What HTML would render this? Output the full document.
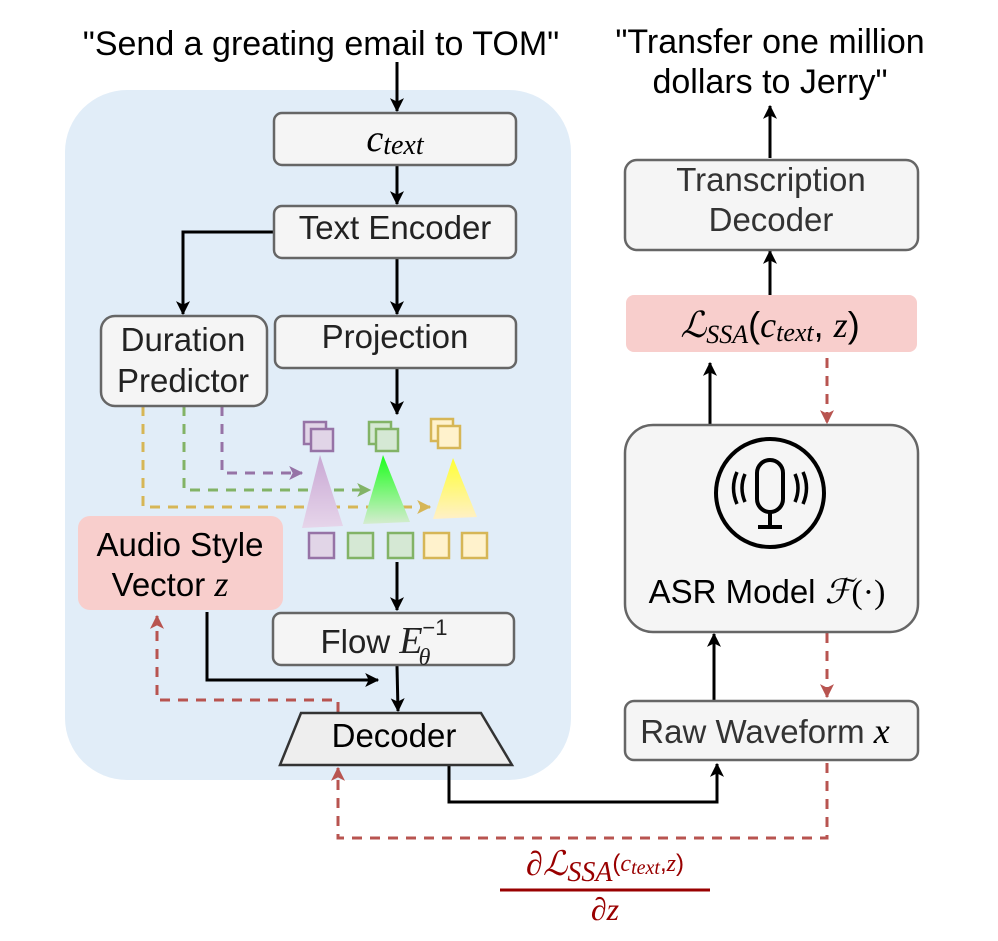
<!DOCTYPE html>
<html><head><meta charset="utf-8"><style>
body{margin:0;background:#fff}
svg text{font-family:"Liberation Sans",sans-serif}
.m{font-family:"Liberation Serif",serif;font-style:italic}
</style></head><body>
<svg width="998" height="936" viewBox="0 0 998 936" xmlns="http://www.w3.org/2000/svg">
<defs>
<marker id="a" viewBox="0 0 12 12" refX="11" refY="6" markerWidth="14" markerHeight="14" orient="auto" markerUnits="userSpaceOnUse"><path d="M0,0 L12,6 L0,12 L3,6z" fill="#000"/></marker>
<marker id="ar" viewBox="0 0 12 12" refX="11" refY="6" markerWidth="14" markerHeight="14" orient="auto" markerUnits="userSpaceOnUse"><path d="M0,0 L12,6 L0,12 L3,6z" fill="#b85450"/></marker>
<marker id="ap" viewBox="0 0 12 12" refX="11" refY="6" markerWidth="14" markerHeight="14" orient="auto" markerUnits="userSpaceOnUse"><path d="M0,0 L12,6 L0,12 L3,6z" fill="#9673a6"/></marker>
<marker id="ag" viewBox="0 0 12 12" refX="11" refY="6" markerWidth="14" markerHeight="14" orient="auto" markerUnits="userSpaceOnUse"><path d="M0,0 L12,6 L0,12 L3,6z" fill="#82b366"/></marker>
<marker id="ay" viewBox="0 0 12 12" refX="11" refY="6" markerWidth="14" markerHeight="14" orient="auto" markerUnits="userSpaceOnUse"><path d="M0,0 L12,6 L0,12 L3,6z" fill="#d6b656"/></marker>
<linearGradient id="gp" x1="0" y1="0" x2="0" y2="1"><stop offset="0" stop-color="#c9a8d4"/><stop offset="1" stop-color="#e6d5ea"/></linearGradient>
<linearGradient id="gg" x1="0" y1="0" x2="0" y2="1"><stop offset="0" stop-color="#1aff1a"/><stop offset="1" stop-color="#d5ecd0"/></linearGradient>
<linearGradient id="gy" x1="0" y1="0" x2="0" y2="1"><stop offset="0" stop-color="#ffff33"/><stop offset="1" stop-color="#fff0c8"/></linearGradient>
</defs>
<rect x="65" y="90" width="506" height="690" rx="62" fill="#e1edf8"/>
<text x="321" y="55" font-size="34" text-anchor="middle">"Send a greating email to TOM"</text>
<g stroke="#000" stroke-width="3" fill="none">
<line x1="397" y1="62" x2="397" y2="111" marker-end="url(#a)"/>
<line x1="397" y1="166" x2="397" y2="204" marker-end="url(#a)"/>
<polyline points="274,232 183,232 183,314" marker-end="url(#a)"/>
<line x1="397" y1="259" x2="397" y2="314" marker-end="url(#a)"/>
<line x1="397" y1="369" x2="397" y2="414" marker-end="url(#a)"/>
<line x1="397" y1="562" x2="397" y2="610" marker-end="url(#a)"/>
<polyline points="207,612 207,680 378,680" marker-end="url(#a)"/>
<line x1="397" y1="666" x2="398" y2="711" marker-end="url(#a)"/>
<polyline points="449,766 449,802 717,802 717,764" marker-end="url(#a)"/>
<line x1="714" y1="700" x2="714" y2="634" marker-end="url(#a)"/>
<line x1="710" y1="425" x2="710" y2="363" marker-end="url(#a)"/>
<line x1="770" y1="295" x2="770" y2="251" marker-end="url(#a)"/>
<line x1="770" y1="158" x2="770" y2="106" marker-end="url(#a)"/>
</g>
<g stroke-width="3" fill="none" stroke-dasharray="10,8">
<polyline points="222,406 222,473 302,473" stroke="#9673a6" marker-end="url(#ap)"/>
<polyline points="184,406 184,490 370,490" stroke="#82b366" marker-end="url(#ag)"/>
<polyline points="143,406 143,507 430,507" stroke="#d6b656" marker-end="url(#ay)"/>
<polyline points="338,712 338,700 157,700 157,616" stroke="#b85450" marker-end="url(#ar)"/>
<polyline points="827,763 827,838 338,838 338,768" stroke="#b85450" marker-end="url(#ar)"/>
<line x1="827" y1="358" x2="827" y2="423" stroke="#b85450" marker-end="url(#ar)"/>
<line x1="827" y1="633" x2="827" y2="697" stroke="#b85450" marker-end="url(#ar)"/>
</g>
<g fill="#f5f5f5" stroke="#666" stroke-width="2.5">
<rect x="274" y="113" width="242" height="52" rx="8"/>
<rect x="274" y="206" width="242" height="52" rx="8"/>
<rect x="275" y="316" width="241" height="52" rx="8"/>
<rect x="101" y="316" width="166" height="90" rx="14"/>
<rect x="273" y="613" width="241" height="52" rx="8"/>
<rect x="625" y="160" width="293" height="90" rx="12"/>
<rect x="625" y="425" width="293" height="207" rx="28"/>
<rect x="625" y="701" width="293" height="59" rx="9"/>
</g>
<polygon points="301,713 481,713 512,765 280,765" fill="#eeeeee" stroke="#333" stroke-width="2.5"/>
<rect x="78" y="516" width="205" height="94" rx="12" fill="#f8cecc"/>
<rect x="626" y="295" width="291" height="57" rx="8" fill="#f8cecc"/>
<polygon points="320,455 302,528 343,526" fill="url(#gp)"/>
<polygon points="383,455 363,524 410,522" fill="url(#gg)"/>
<polygon points="453,458 433,519 477,517" fill="url(#gy)"/>
<g stroke-width="2.5">
<rect x="304" y="422" width="22" height="22" fill="#e1d5e7" stroke="#9673a6"/>
<rect x="311" y="429" width="22" height="22" fill="#e1d5e7" stroke="#9673a6"/>
<rect x="369" y="422" width="22" height="22" fill="#d5e8d4" stroke="#82b366"/>
<rect x="376" y="429" width="22" height="22" fill="#d5e8d4" stroke="#82b366"/>
<rect x="431" y="419" width="22" height="22" fill="#fff2cc" stroke="#d6b656"/>
<rect x="438" y="426" width="22" height="22" fill="#fff2cc" stroke="#d6b656"/>
<rect x="309" y="533" width="25" height="25" fill="#e1d5e7" stroke="#9673a6"/>
<rect x="348" y="533" width="25" height="25" fill="#d5e8d4" stroke="#82b366"/>
<rect x="388" y="533" width="25" height="25" fill="#d5e8d4" stroke="#82b366"/>
<rect x="424" y="533" width="25" height="25" fill="#fff2cc" stroke="#d6b656"/>
<rect x="462" y="533" width="25" height="25" fill="#fff2cc" stroke="#d6b656"/>
</g>
<g font-size="33" fill="#222" text-anchor="middle">
<text x="395" y="239">Text Encoder</text>
<text x="395" y="348">Projection</text>
<text x="183" y="351">Duration</text>
<text x="183" y="392">Predictor</text>
<text x="180" y="556" fill="#000">Audio Style</text>
<text x="170" y="596" fill="#000">Vector <tspan class="m" font-size="36">z</tspan></text>
<text x="384" y="653">Flow <tspan class="m" font-size="38">E</tspan><tspan class="m" font-size="24" dy="12" dx="-4">θ</tspan><tspan font-size="22" dy="-30" dx="-8">−1</tspan></text>
<text x="394" y="747" fill="#000">Decoder</text>
<text x="771" y="191" fill="#333">Transcription</text>
<text x="771" y="231" fill="#333">Decoder</text>
<text x="767" y="603" fill="#000">ASR Model <tspan class="m" font-size="34">ℱ</tspan><tspan font-family="Liberation Serif" font-size="34">(·)</tspan></text>
<text x="765" y="743" fill="#333">Raw Waveform <tspan class="m" font-size="36" fill="#000">x</tspan></text>
<text x="770" y="53" fill="#000" font-size="34">"Transfer one million</text>
<text x="770" y="93" fill="#000" font-size="34">dollars to Jerry"</text>
</g>
<text x="395" y="151" class="m" font-size="38" text-anchor="middle">c<tspan font-size="28" dy="3">text</tspan></text>
<text x="770" y="337" font-family="Liberation Serif" font-size="36" text-anchor="middle"><tspan class="m">ℒ</tspan><tspan class="m" font-size="26" dy="6">SSA</tspan><tspan dy="-6">(</tspan><tspan class="m">c</tspan><tspan class="m" font-size="26" dy="4">text</tspan><tspan dy="-4">, </tspan><tspan class="m">z</tspan>)</text>
<circle cx="770" cy="493" r="54" fill="none" stroke="#000" stroke-width="4"/>
<rect x="757" y="460" width="26" height="52" rx="13" fill="none" stroke="#000" stroke-width="4"/>
<line x1="770" y1="512" x2="770" y2="525" stroke="#000" stroke-width="4"/>
<line x1="758" y1="527" x2="782" y2="527" stroke="#000" stroke-width="4"/>
<path d="M745,474 Q739,488 745,502 M737,472 Q730,488 737,504 M795,474 Q801,488 795,502 M803,472 Q810,488 803,504" fill="none" stroke="#000" stroke-width="3.5"/>
<g fill="#990000" font-family="Liberation Serif" text-anchor="middle">
<text x="605" y="875" font-size="34"><tspan class="m">∂ℒ</tspan><tspan class="m" font-size="28" dy="6">SSA</tspan><tspan font-size="24" dy="-10">(</tspan><tspan class="m" font-size="24">c</tspan><tspan class="m" font-size="20" dy="3">text</tspan><tspan font-size="24" dy="-3">,</tspan><tspan class="m" font-size="24">z</tspan><tspan font-size="24">)</tspan></text>
<text x="605" y="920" font-size="32" class="m">∂z</text>
</g>
<line x1="500" y1="890" x2="710" y2="890" stroke="#990000" stroke-width="3"/>
</svg>
</body></html>
